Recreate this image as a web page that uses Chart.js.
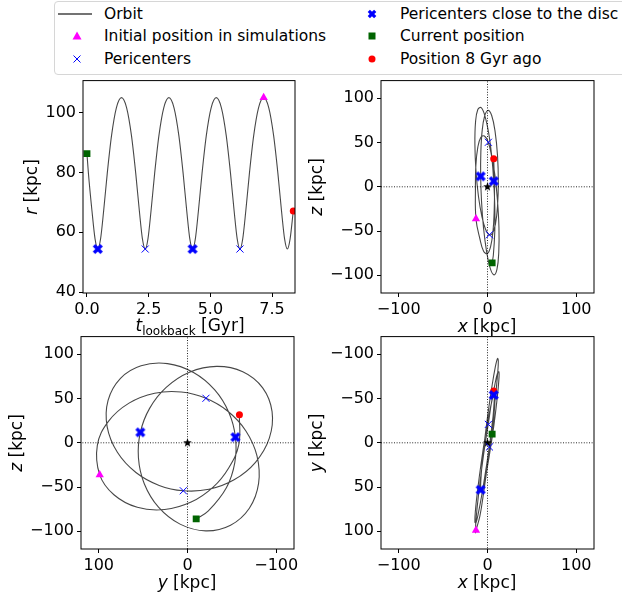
<!DOCTYPE html>
<html>
<head>
<meta charset="utf-8">
<script src="https://cdn.jsdelivr.net/npm/chart.js@4.4.1/dist/chart.umd.min.js"></script>
<style>
  body { margin: 0; width: 622px; height: 598px; overflow: hidden; background: #fff; position: relative; font-family: "DejaVu Sans", sans-serif; }
  canvas { position: absolute; }
  .lab { position: absolute; font-size: 17px; line-height: 20px; white-space: nowrap; color: #000; }
  .h { transform: translate(-50%, -50%); }
  .v { transform: translate(-50%, -50%) rotate(-90deg); }
  #legend { position: absolute; left: 54px; top: 1px; width: 600px; height: 72px; border: 1px solid #d6d6d6; border-radius: 4px; }
  .item { position: absolute; font-size: 15.5px; line-height: 18px; white-space: nowrap; color: #000; }
  .icon { position: absolute; }
</style>
</head>
<body>
<div id="legend"></div>

<svg class="icon" style="left:56px;top:7px" width="38" height="14"><line x1="2" y1="7" x2="36" y2="7" stroke="#444" stroke-width="1.5"/></svg>
<div class="item" style="left:104px;top:5px">Orbit</div>
<svg class="icon" style="left:70px;top:29px" width="14" height="14"><polygon points="7,2.5 11.5,10.5 2.5,10.5" fill="#ff00ff"/></svg>
<div class="item" style="left:104px;top:27px">Initial position in simulations</div>
<svg class="icon" style="left:70px;top:52px" width="14" height="14"><path d="M3.5 3.5 L10.5 10.5 M10.5 3.5 L3.5 10.5" stroke="#0000ff" stroke-width="1"/></svg>
<div class="item" style="left:104px;top:50px">Pericenters</div>

<svg class="icon" style="left:365px;top:7px" width="14" height="14"><g transform="rotate(45 7 7)" fill="#0000ff"><rect x="2.5" y="5.4" width="9" height="3.2"/><rect x="5.4" y="2.5" width="3.2" height="9"/></g></svg>
<div class="item" style="left:400px;top:5px">Pericenters close to the disc</div>
<svg class="icon" style="left:365px;top:29px" width="14" height="14"><rect x="3.5" y="3.5" width="7" height="7" fill="#006400"/></svg>
<div class="item" style="left:400px;top:27px">Current position</div>
<svg class="icon" style="left:365px;top:52px" width="14" height="14"><circle cx="7" cy="7" r="3.5" fill="#ff0000"/></svg>
<div class="item" style="left:400px;top:50px">Position 8 Gyr ago</div>

<canvas id="c1"></canvas>
<canvas id="c2"></canvas>
<canvas id="c3"></canvas>
<canvas id="c4"></canvas>

<div class="lab v" style="left:31px;top:187px"><i>r</i> [kpc]</div>
<div class="lab h" style="left:190px;top:326px"><i>t</i><span style="font-size:12px;position:relative;top:4px">lookback</span> [Gyr]</div>
<div class="lab v" style="left:316px;top:187px"><i>z</i> [kpc]</div>
<div class="lab h" style="left:487px;top:326px"><i>x</i> [kpc]</div>
<div class="lab v" style="left:16px;top:443px"><i>z</i> [kpc]</div>
<div class="lab h" style="left:187px;top:582px"><i>y</i> [kpc]</div>
<div class="lab v" style="left:316px;top:443px"><i>y</i> [kpc]</div>
<div class="lab h" style="left:487px;top:582px"><i>x</i> [kpc]</div>

<script>
// orbit samples
const tLookback = [0.000, 0.057, 0.204, 0.328, 0.44, 0.552, 0.676, 0.823, 0.996, 1.192, 1.40,
  1.608, 1.804, 1.977, 2.124, 2.248, 2.36, 2.472, 2.596, 2.743, 2.916, 3.112, 3.32,
  3.528, 3.724, 3.897, 4.044, 4.168, 4.28, 4.392, 4.516, 4.663, 4.836, 5.032, 5.24,
  5.448, 5.644, 5.817, 5.964, 6.088, 6.20, 6.312, 6.436, 6.583, 6.756, 6.952, 7.16,
  7.368, 7.564, 7.737, 7.884, 8.008, 8.12, 8.232, 8.36];
const rOrbit = [86.3, 80.0, 67.1, 57.8, 54.4, 57.8, 67.1, 79.7, 92.3, 101.6, 105.0,
  101.6, 92.3, 79.7, 67.1, 57.8, 54.4, 57.8, 67.1, 79.7, 92.3, 101.6, 105.0,
  101.6, 92.3, 79.7, 67.1, 57.8, 54.4, 57.8, 67.1, 79.7, 92.3, 101.6, 105.0,
  101.6, 92.3, 79.7, 67.1, 57.8, 54.4, 57.8, 67.1, 79.7, 92.3, 101.6, 105.0,
  101.6, 92.3, 79.7, 67.1, 57.8, 54.4, 57.8, 67.1];
const xOrbit = [5.2, 6.6, 8.2, 8.2, 7.0, 4.8, 1.5, -2.7, -7.1, -11.0, -13.5,
  -14.2, -13.0, -10.2, -6.3, -2.1, 2.0, 5.6, 9.0, 11.3, 12.2, 11.3, 8.6,
  4.8, 0.5, -3.3, -6.1, -7.5, -7.7, -6.7, -4.5, -1.1, 3.0, 7.3, 10.7,
  12.7, 12.9, 11.2, 8.3, 4.5, 0.8, -3.5, -7.5, -10.9, -13.1, -13.6, -13.0,
  -8.6, -4.4, -0.1, 3.6, 6.2, 7.5, 7.9, 7.0];
const yOrbit = [-9.8, -23.5, -43.8, -53.3, -54.0, -46.6, -30.7, -6.8, 22.5, 52.3, 75.5,
  89.5, 90.5, 79.0, 58.1, 31.9, 4.7, -24.2, -52.5, -76.6, -92.2, -95.3, -84.7,
  -62.3, -32.8, -2.2, 24.0, 42.7, 53.1, 55.3, 48.7, 32.7, 8.4, -20.6, -48.5,
  -69.7, -80.1, -78.3, -65.8, -45.5, -20.8, 7.0, 37.0, 65.9, 89.1, 101.6, 98.9,
  82.9, 56.6, 25.7, -4.1, -28.9, -46.4, -57.8, -58.5];
const zOrbit = [-86.0, -77.0, -50.8, -22.3, 6.4, 34.2, 59.7, 79.4, 89.5, 87.1, 72.9,
  48.0, 18.1, -10.7, -33.6, -48.2, -54.2, -52.5, -41.8, -22.0, 5.2, 35.2, 62.1,
  80.3, 86.3, 79.7, 62.6, 38.9, 11.8, -16.9, -46.2, -72.7, -91.9, -99.5, -93.1,
  -73.9, -45.9, -14.9, 13.4, 35.6, 50.3, 57.4, 56.0, 44.8, 24.2, -3.0, -36.2,
  -58.7, -72.9, -75.4, -67.0, -50.1, -28.4, -2.0, 31.7];

// special positions
const tInitial = [7.16], rInitial = [105.0], xInitial = [-13.0], yInitial = [98.9], zInitial = [-36.2];
const tPeri = [2.36, 6.20], rPeri = [54.4, 54.4], xPeri = [2.2, 1.0], yPeri = [4.7, -20.8], zPeri = [-54.2, 50.3];
const tPeriDisc = [0.44, 4.28], rPeriDisc = [54.4, 54.4], xPeriDisc = [7.0, -7.7], yPeriDisc = [-54.0, 53.1], zPeriDisc = [6.4, 11.8];
const tNow = [0.0], rNow = [86.3], xNow = [5.2], yNow = [-9.8], zNow = [-86.0];
const tAgo8 = [8.36], rAgo8 = [67.1], xAgo8 = [7.0], yAgo8 = [-58.5], zAgo8 = [31.7];
const xCentre = [0], yCentre = [0];

// axes
const tRange = [-0.16, 8.43], rRange = [39.7, 110.7], posRange = [-120, 120];
const tTicks = [0, 2.5, 5, 7.5], rTicks = [40, 60, 80, 100];
const posTicksX = [-100, 0, 100], posTicksY = [-100, -50, 0, 50, 100];

const LEFT = 72, BOTTOM = 32, TOP = 12, RIGHT = 22;
const FONT = "DejaVu Sans";

function pts(a, b) { return a.map((v, i) => ({ x: v, y: b[i] })); }
function num(v) { return v < 0 ? "\u2212" + Math.abs(v) : String(v); }

function xMarker() {
  const c = document.createElement("canvas");
  c.width = c.height = 12;
  const g = c.getContext("2d");
  g.translate(6, 6);
  g.rotate(Math.PI / 4);
  g.fillStyle = "#0000ff";
  g.fillRect(-5.4, -1.7, 10.8, 3.4);
  g.fillRect(-1.7, -5.4, 3.4, 10.8);
  return c;
}
function starMarker() {
  const c = document.createElement("canvas");
  c.width = c.height = 11;
  const g = c.getContext("2d");
  g.translate(5.5, 5.5);
  g.beginPath();
  for (let i = 0; i < 10; i++) {
    const rad = i % 2 ? 1.9 : 4.6;
    const a = -Math.PI / 2 + i * Math.PI / 5;
    g.lineTo(rad * Math.cos(a), rad * Math.sin(a));
  }
  g.closePath();
  g.fillStyle = "#000";
  g.fill();
  return c;
}
const filledX = xMarker();
const star = starMarker();

function marks(data, style, radius, color, lw) {
  return { data, pointStyle: style, pointRadius: radius, backgroundColor: color, borderColor: color,
    pointBorderWidth: lw || 0, showLine: false, order: 0 };
}
function line(data, extra) {
  return Object.assign({ data, showLine: true, pointRadius: 0, borderColor: "rgba(0,0,0,0.72)",
    borderWidth: 1.1, tension: 0.4, order: 1 }, extra || {});
}
function zeroLines() {
  const st = { borderColor: "rgba(0,0,0,0.85)", borderWidth: 1, borderDash: [1, 1.6], tension: 0, order: 2 };
  return [line(pts(posRange, [0, 0]), st), line(pts([0, 0], posRange), st)];
}

function axis(range, ticks, fmt, reverse, isX) {
  return {
    type: "linear", min: range[0], max: range[1], reverse: !!reverse,
    afterBuildTicks: s => { s.ticks = ticks.map(v => ({ value: v })); },
    afterFit: s => { if (isX) s.height = BOTTOM; else s.width = LEFT; },
    grid: { drawOnChartArea: false, drawTicks: true, tickLength: 4, tickColor: "#000", tickWidth: 1 },
    border: { display: false },
    ticks: { color: "#000", font: { family: FONT, size: 16 }, padding: 3, autoSkip: false, maxRotation: 0,
      callback: v => fmt(v) }
  };
}

const framePlugin = {
  id: "frame",
  afterDraw(chart) {
    const a = chart.chartArea, g = chart.ctx;
    g.save();
    g.strokeStyle = "#000";
    g.lineWidth = 1;
    g.strokeRect(a.left, a.top, a.right - a.left, a.bottom - a.top);
    g.restore();
  }
};

function panel(id, left, top, w, h, datasets, xScale, yScale) {
  const cv = document.getElementById(id);
  cv.width = w + LEFT + RIGHT;
  cv.height = h + TOP + BOTTOM;
  cv.style.left = (left - LEFT) + "px";
  cv.style.top = (top - TOP) + "px";
  new Chart(cv, {
    type: "scatter",
    data: { datasets },
    options: {
      responsive: false, animation: false, events: [],
      layout: { padding: { top: TOP, right: RIGHT, left: 0, bottom: 0 } },
      plugins: { legend: { display: false }, tooltip: { enabled: false } },
      scales: { x: xScale, y: yScale }
    },
    plugins: [framePlugin]
  });
}

function spatial(id, left, top, ha, va, hRev, vRev, hTicks, vTicks) {
  const sets = [
    marks(pts(ha.periDisc, va.periDisc), filledX, 5, "#0000ff"),
    marks(pts(ha.peri, va.peri), "crossRot", 5, "#0000ff", 1),
    marks(pts(xCentre, yCentre), star, 5, "#000"),
    marks(pts(ha.initial, va.initial), "triangle", 4.8, "#ff00ff"),
    marks(pts(ha.now, va.now), "rect", 4.9, "#006400"),
    marks(pts(ha.ago8, va.ago8), "circle", 3.5, "#ff0000"),
    line(pts(ha.orbit, va.orbit))
  ].concat(zeroLines());
  panel(id, left, top, 213, 213, sets,
    axis(posRange, hTicks, num, hRev, true),
    axis(posRange, vTicks, num, vRev, false));
}

const X = { orbit: xOrbit, initial: xInitial, peri: xPeri, periDisc: xPeriDisc, now: xNow, ago8: xAgo8 };
const Y = { orbit: yOrbit, initial: yInitial, peri: yPeri, periDisc: yPeriDisc, now: yNow, ago8: yAgo8 };
const Z = { orbit: zOrbit, initial: zInitial, peri: zPeri, periDisc: zPeriDisc, now: zNow, ago8: zAgo8 };

// r vs lookback time
panel("c1", 83, 80, 212, 213, [
  marks(pts(tPeriDisc, rPeriDisc), filledX, 5, "#0000ff"),
  marks(pts(tPeri, rPeri), "crossRot", 5, "#0000ff", 1),
  marks(pts(tInitial, rInitial), "triangle", 4.8, "#ff00ff"),
  marks(pts(tNow, rNow), "rect", 4.9, "#006400"),
  marks(pts(tAgo8, rAgo8), "circle", 3.5, "#ff0000"),
  line(pts(tLookback, rOrbit), { tension: 0, cubicInterpolationMode: "monotone" })
], axis(tRange, tTicks, v => v.toFixed(1), false, true), axis(rRange, rTicks, num, false, false));

spatial("c2", 381, 80, X, Z, false, false, posTicksX, posTicksY);
spatial("c3", 81, 336, Y, Z, true, false, posTicksX, posTicksY);
spatial("c4", 381, 336, X, Y, false, true, posTicksX, posTicksY);
</script>
</body>
</html>
